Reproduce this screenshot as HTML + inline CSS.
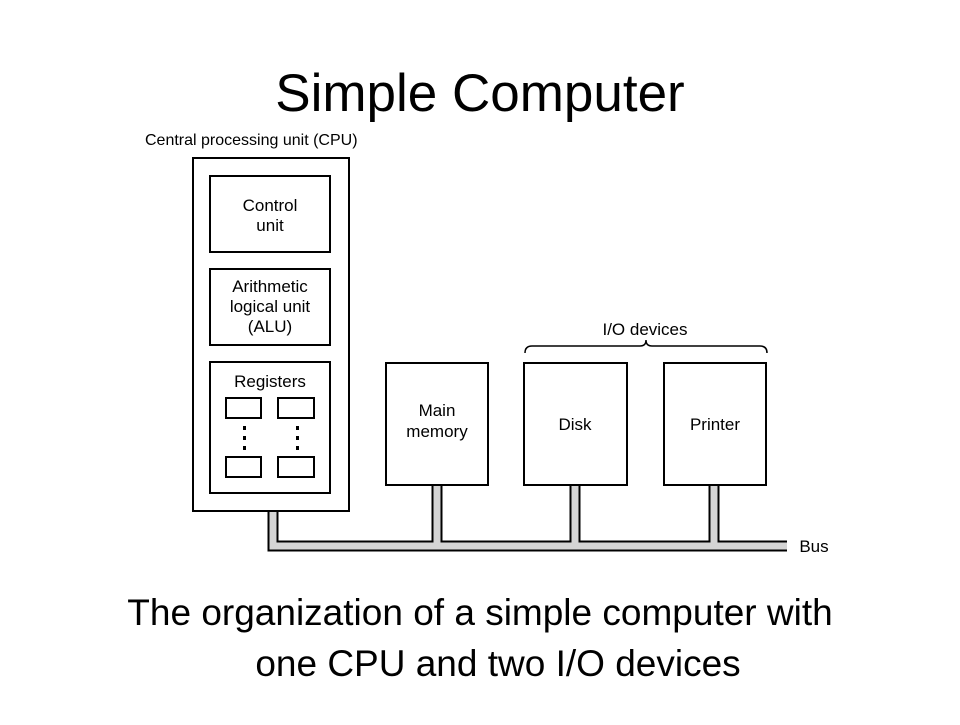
<!DOCTYPE html>
<html><head><style>
body{margin:0;background:#fff;}
svg text{font-family:"Liberation Sans",Arial,sans-serif;fill:#000;}
</style></head><body>
<svg width="960" height="720" viewBox="0 0 960 720" xmlns="http://www.w3.org/2000/svg">
<rect width="960" height="720" fill="#fff"/>
<text x="480" y="111" font-size="53" text-anchor="middle">Simple Computer</text>
<text x="145" y="145" font-size="16">Central processing unit (CPU)</text>
<g fill="none" stroke="#000" stroke-width="2">
<rect x="193" y="158" width="156" height="353"/>
<rect x="210" y="176" width="120" height="76"/>
<rect x="210" y="269" width="120" height="76"/>
<rect x="210" y="362" width="120" height="131"/>
<rect x="226" y="398" width="35" height="20"/>
<rect x="278" y="398" width="36" height="20"/>
<rect x="226" y="457" width="35" height="20"/>
<rect x="278" y="457" width="36" height="20"/>
<rect x="386" y="363" width="102" height="122"/>
<rect x="524" y="363" width="103" height="122"/>
<rect x="664" y="363" width="102" height="122"/>
<path d="M525,353 Q525,346 532,346 L640,346 Q646,346 646,340 Q646,346 652,346 L760,346 Q767,346 767,353" stroke-width="1.5"/>
</g>
<g fill="#000" font-size="17" text-anchor="middle">
<text x="270" y="211">Control</text><text x="270" y="231">unit</text>
<text x="270" y="292">Arithmetic</text><text x="270" y="312">logical unit</text><text x="270" y="332">(ALU)</text>
<text x="270" y="387">Registers</text>
<text x="437" y="416">Main</text><text x="437" y="437">memory</text>
<text x="575" y="430">Disk</text>
<text x="715" y="430">Printer</text>
<text x="645" y="335">I/O devices</text>
<text x="814" y="552">Bus</text>
</g>
<g fill="#000">
<rect x="243" y="426" width="3" height="4"/><rect x="243" y="436" width="3" height="4"/><rect x="243" y="446" width="3" height="4"/>
<rect x="296" y="426" width="3" height="4"/><rect x="296" y="436" width="3" height="4"/><rect x="296" y="446" width="3" height="4"/>
</g>
<g fill="none" stroke-linecap="butt" stroke-linejoin="miter">
<g stroke="#000" stroke-width="11">
<path d="M273,512 L273,546 L787,546"/>
<path d="M437,486 L437,546 M575,486 L575,546 M714,486 L714,546"/>
</g>
<g stroke="#d4d4d4" stroke-width="7">
<path d="M273,512 L273,546 L787,546"/>
<path d="M437,486 L437,546 M575,486 L575,546 M714,486 L714,546"/>
</g>
</g>
<text x="480" y="625" font-size="37" text-anchor="middle">The organization of a simple computer with</text>
<text x="498" y="676" font-size="37" text-anchor="middle">one CPU and two I/O devices</text>
</svg>
</body></html>
